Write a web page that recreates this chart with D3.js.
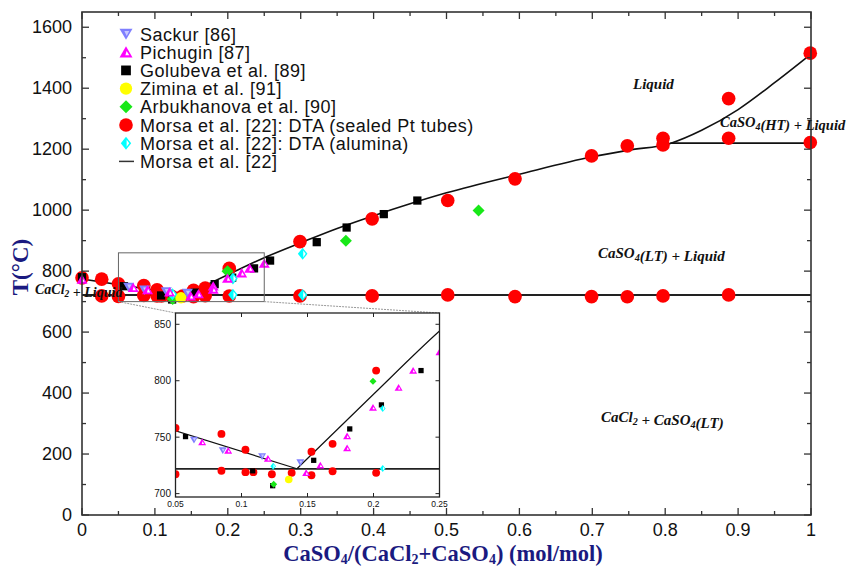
<!DOCTYPE html>
<html>
<head>
<meta charset="utf-8">
<script src="https://cdn.jsdelivr.net/npm/d3@7"></script>
<style>
  body { margin: 0; background: #fff; }
  svg text { font-family: "Liberation Sans", Arial, sans-serif; }
  .serif { font-family: "Liberation Serif", "Times New Roman", serif !important; }
</style>
</head>
<body>
<svg id="chart" width="850" height="568"></svg>
<script>
// data: [x (mol/mol), T (°C)]
var sackur = [[0.064, 747.6], [0.0858, 738.2], [0.1156, 733], [0.1446, 727.5]];
var pichugin = [[0.0, 773], [0.0702, 745.6], [0.0899, 738.2], [0.120, 731], [0.149, 718.4], [0.1597, 725.1],
                [0.180, 750.9], [0.180, 740.4], [0.1996, 776.3], [0.219, 793.9], [0.230, 809], [0.25, 825.4]];
var golubeva = [[0.0, 780], [0.0576, 750.5], [0.1085, 720.2], [0.1236, 707], [0.1547, 729.5], [0.182, 757.3],
                [0.206, 778.6], [0.236, 809], [0.258, 834.6], [0.322, 895], [0.363, 943], [0.414, 987], [0.46, 1031.5]];
var zimina = [[0.1358, 712.5]];
var arbukhanova = [[0.1244, 708.2], [0.1996, 799.6], [0.362, 900], [0.544, 999]];
var morsaPt = [[0.0, 778], [0.027, 773.5], [0.027, 718.7], [0.05, 758.2], [0.05, 717.2], [0.0848, 752.9], [0.0848, 720.2],
               [0.103, 738.9], [0.103, 719], [0.109, 719], [0.123, 717.2], [0.138, 718.4], [0.153, 737.1], [0.153, 716.3],
               [0.169, 744.1], [0.169, 719.8], [0.202, 809], [0.202, 718.4], [0.299, 897], [0.299, 718.7],
               [0.398, 971.4], [0.398, 718.7], [0.5017, 1031.5], [0.5017, 722], [0.594, 1102.7], [0.594, 716.5],
               [0.699, 1178], [0.699, 716.5], [0.748, 1211], [0.748, 716], [0.797, 1236], [0.797, 1214], [0.797, 718.7],
               [0.887, 1366], [0.887, 1236], [0.887, 722], [0.999, 1515], [0.999, 1222]];
var morsaAlumina = [[0.124, 724.2], [0.207, 775.4], [0.207, 722.2], [0.3027, 856.6], [0.3027, 722]];

// Morsa et al. calculated lines
var liquidusLeft = [[0, 774], [0.142, 722]];
var liquidusRight = [[0.142, 722], [0.2, 788], [0.25, 844], [0.3, 893], [0.35, 940], [0.4, 982], [0.45, 1021],
                     [0.5, 1057], [0.6, 1118], [0.7, 1175], [0.75, 1197], [0.807, 1219], [0.85, 1262], [0.9, 1330],
                     [0.95, 1418], [1, 1512]];
var eutecticLine = [[0, 722], [1, 722]];
var peritecticLine = [[0.807, 1220], [1, 1220]];

var xTicks = [0, 0.1, 0.2, 0.3, 0.4, 0.5, 0.6, 0.7, 0.8, 0.9, 1];
var yTicks = [0, 200, 400, 600, 800, 1000, 1200, 1400, 1600];
var insetXTicks = [0.05, 0.1, 0.15, 0.2, 0.25];
var insetYTicks = [700, 750, 800, 850];

var legendNames = ["Sackur [86]", "Pichugin [87]", "Golubeva et al. [89]", "Zimina et al. [91]",
                   "Arbukhanova et al. [90]", "Morsa et al. [22]: DTA (sealed Pt tubes)",
                   "Morsa et al. [22]: DTA (alumina)", "Morsa et al. [22]"];

var svg = d3.select('#chart');
var margin = {top: 12, left: 82, bottom: 53, right: 39};
var width = 850, height = 568;

var x = d3.scaleLinear().domain([0, 1]).range([margin.left, width - margin.right]);
var y = d3.scaleLinear().domain([0, 1650]).range([height - margin.bottom, margin.top]);

var navy = "#1a1a80";

// marker drawing
function marker(g, type, cx, cy, s) {
    var h = s / 2;
    if (type == "sackur") {
        g.append("path").attr("d", "M" + (cx - h) + "," + (cy - h * 0.8) + "L" + (cx + h) + "," + (cy - h * 0.8) + "L" + cx + "," + (cy + h * 0.9) + "Z")
            .attr("fill", "#7f7fff");
        g.append("path").attr("d", "M" + (cx - h * 0.25) + "," + (cy - h * 0.45) + "L" + (cx + h * 0.5) + "," + (cy - h * 0.45) + "L" + (cx + h * 0.1) + "," + (cy + h * 0.3) + "Z")
            .attr("fill", "#c8c8ff");
    } else if (type == "pichugin") {
        g.append("path").attr("d", "M" + (cx - h) + "," + (cy + h * 0.8) + "L" + (cx + h) + "," + (cy + h * 0.8) + "L" + cx + "," + (cy - h * 0.9) + "Z")
            .attr("fill", "#ff00ff");
        g.append("path").attr("d", "M" + (cx - h * 0.1) + "," + (cy + h * 0.45) + "L" + (cx + h * 0.5) + "," + (cy + h * 0.45) + "L" + (cx + h * 0.1) + "," + (cy - h * 0.2) + "Z")
            .attr("fill", "#fff");
    } else if (type == "golubeva") {
        g.append("rect").attr("x", cx - h * 0.75).attr("y", cy - h * 0.75).attr("width", h * 1.5).attr("height", h * 1.5).attr("fill", "#000");
    } else if (type == "zimina") {
        g.append("circle").attr("cx", cx).attr("cy", cy).attr("r", h * 0.95).attr("fill", "#ffff00");
    } else if (type == "arbukhanova") {
        g.append("path").attr("d", "M" + cx + "," + (cy - h) + "L" + (cx + h) + "," + cy + "L" + cx + "," + (cy + h) + "L" + (cx - h) + "," + cy + "Z")
            .attr("fill", "#18e818");
    } else if (type == "morsaPt") {
        g.append("circle").attr("cx", cx).attr("cy", cy).attr("r", h * 1.05).attr("fill", "#ff0000");
    } else if (type == "alumina") {
        g.append("path").attr("d", "M" + cx + "," + (cy - h) + "L" + (cx + h * 0.8) + "," + cy + "L" + cx + "," + (cy + h) + "L" + (cx - h * 0.8) + "," + cy + "Z")
            .attr("fill", "#00ffff");
        g.append("path").attr("d", "M" + (cx + h * 0.1) + "," + (cy - h * 0.55) + "L" + (cx + h * 0.5) + "," + cy + "L" + (cx + h * 0.1) + "," + (cy + h * 0.55) + "Z")
            .attr("fill", "#fff");
    }
}

var series = [
    {type: "sackur", data: sackur},
    {type: "pichugin", data: pichugin},
    {type: "golubeva", data: golubeva},
    {type: "zimina", data: zimina},
    {type: "arbukhanova", data: arbukhanova},
    {type: "morsaPt", data: morsaPt},
    {type: "alumina", data: morsaAlumina}
];
var drawOrder = ["morsaPt", "golubeva", "arbukhanova", "zimina", "alumina", "sackur", "pichugin"];
var mainSize = {sackur: 11, pichugin: 11, golubeva: 11, zimina: 12, arbukhanova: 12, morsaPt: 13, alumina: 12};
var insetSize = {sackur: 8, pichugin: 8, golubeva: 7, zimina: 8, arbukhanova: 7, morsaPt: 7.5, alumina: 7};

// lines
var line = d3.line().x(function(d) { return x(d[0]); }).y(function(d) { return y(d[1]); });
var curve = d3.line().curve(d3.curveMonotoneX).x(function(d) { return x(d[0]); }).y(function(d) { return y(d[1]); });

svg.append("path").attr("d", line(eutecticLine)).attr("stroke", "#222").attr("stroke-width", 2).attr("fill", "none");
svg.append("path").attr("d", line(peritecticLine)).attr("stroke", "#111").attr("stroke-width", 1.6).attr("fill", "none");
svg.append("path").attr("d", line(liquidusLeft)).attr("stroke", "#111").attr("stroke-width", 1.6).attr("fill", "none");
svg.append("path").attr("d", curve(liquidusRight)).attr("stroke", "#111").attr("stroke-width", 1.6).attr("fill", "none");

// points in main plot
var pts = svg.append("g");
drawOrder.forEach(function(t) {
    var s = series.filter(function(d) { return d.type == t; })[0];
    s.data.forEach(function(d) { marker(pts, t, x(d[0]), y(d[1]), mainSize[t]); });
});

// zoom rectangle in main plot
svg.append("rect")
    .attr("x", x(0.05)).attr("y", y(860))
    .attr("width", x(0.25) - x(0.05)).attr("height", y(700) - y(860))
    .attr("fill", "none").attr("stroke", "#666").attr("stroke-width", 1);

// main axes
function frameAxes() {
    var g = svg.append("g").attr("stroke", "#333");
    var x0 = x(0), x1 = x(1), y0 = y(0), y1 = margin.top;
    g.append("rect").attr("x", x0).attr("y", y1).attr("width", x1 - x0).attr("height", y0 - y1)
        .attr("fill", "none").attr("stroke-width", 1.6);
    d3.range(0, 1.0001, 0.05).forEach(function(v, i) {
        var len = i % 2 == 0 ? 7 : 4;
        g.append("line").attr("x1", x(v)).attr("x2", x(v)).attr("y1", y0).attr("y2", y0 - len).attr("stroke-width", 1.3);
        g.append("line").attr("x1", x(v)).attr("x2", x(v)).attr("y1", y1).attr("y2", y1 + len).attr("stroke-width", 1.3);
    });
    d3.range(0, 1650, 100).forEach(function(v, i) {
        var len = i % 2 == 0 ? 7 : 4;
        g.append("line").attr("y1", y(v)).attr("y2", y(v)).attr("x1", x0).attr("x2", x0 + len).attr("stroke-width", 1.3);
        g.append("line").attr("y1", y(v)).attr("y2", y(v)).attr("x1", x1).attr("x2", x1 - len).attr("stroke-width", 1.3);
    });
}
frameAxes();

svg.selectAll(".xlab").data(xTicks).enter().append("text")
    .attr("x", function(d) { return x(d); }).attr("y", 536)
    .attr("text-anchor", "middle").attr("font-size", 18).attr("fill", "#111")
    .text(function(d) { return d; });
svg.selectAll(".ylab").data(yTicks).enter().append("text")
    .attr("x", 72).attr("y", function(d) { return y(d) + 6; })
    .attr("text-anchor", "end").attr("font-size", 18).attr("fill", "#111")
    .text(function(d) { return d; });

// axis titles
var xt = svg.append("text").attr("class", "serif").attr("x", 443).attr("y", 561)
    .attr("text-anchor", "middle").attr("font-size", 22.5).attr("font-weight", "bold").attr("fill", navy);
xt.append("tspan").text("CaSO");
xt.append("tspan").attr("font-size", 14).attr("dy", 3).text("4");
xt.append("tspan").attr("dy", -3).text("/(CaCl");
xt.append("tspan").attr("font-size", 14).attr("dy", 3).text("2");
xt.append("tspan").attr("dy", -3).text("+CaSO");
xt.append("tspan").attr("font-size", 14).attr("dy", 3).text("4");
xt.append("tspan").attr("dy", -3).text(") (mol/mol)");

svg.append("text").attr("class", "serif")
    .attr("transform", "translate(28," + 267 + "), rotate(-90)")
    .attr("text-anchor", "middle").attr("font-size", 23).attr("font-weight", "bold").attr("fill", navy)
    .text("T(°C)");

// phase field labels
function phaseLabel(px, py, parts, fs) {
    var t = svg.append("text").attr("class", "serif").attr("x", px).attr("y", py)
        .attr("font-size", fs).attr("font-weight", "bold").attr("font-style", "italic").attr("fill", "#111");
    parts.forEach(function(p) {
        if (p.sub) {
            t.append("tspan").attr("font-size", fs * 0.68).attr("dy", 3).text(p.sub);
            t.append("tspan").attr("dy", -3).text("");
        } else {
            t.append("tspan").text(p.t);
        }
    });
}
phaseLabel(633, 89, [{t: "Liquid"}], 15);
phaseLabel(720, 127, [{t: "CaSO"}, {sub: "4"}, {t: "(HT) + Liquid"}], 14.5);
phaseLabel(598, 258, [{t: "CaSO"}, {sub: "4"}, {t: "(LT) + Liquid"}], 15);
phaseLabel(601, 422, [{t: "CaCl"}, {sub: "2"}, {t: " + CaSO"}, {sub: "4"}, {t: "(LT)"}], 15);
phaseLabel(35, 294, [{t: "CaCl"}, {sub: "2"}, {t: " + Liquid"}], 14);

// legend
var legend = svg.append("g");
var legendTypes = ["sackur", "pichugin", "golubeva", "zimina", "arbukhanova", "morsaPt", "alumina", "line"];
legendNames.forEach(function(name, i) {
    var ly = 34 + i * 18.2;
    if (legendTypes[i] == "line") {
        legend.append("line").attr("x1", 119).attr("x2", 134).attr("y1", ly).attr("y2", ly).attr("stroke", "#333").attr("stroke-width", 1.5);
    } else {
        marker(legend, legendTypes[i], 126, ly, 13);
    }
    legend.append("text").attr("x", 140).attr("y", ly + 6.5).attr("font-size", 18).attr("letter-spacing", 0.5)
        .attr("fill", "#111").text(name);
});

// inset
var ix = d3.scaleLinear().domain([0.05, 0.25]).range([175.5, 439.5]);
var iy = d3.scaleLinear().domain([697, 860]).range([497, 313]);

// connectors
svg.append("line").attr("x1", x(0.05)).attr("y1", y(700)).attr("x2", ix(0.05)).attr("y2", iy(860))
    .attr("stroke", "#999").attr("stroke-width", 1).attr("stroke-dasharray", "2,1");
svg.append("line").attr("x1", x(0.25)).attr("y1", y(700)).attr("x2", ix(0.25)).attr("y2", iy(860))
    .attr("stroke", "#999").attr("stroke-width", 1).attr("stroke-dasharray", "2,1");

var inset = svg.append("g");
inset.append("rect").attr("x", ix(0.05)).attr("y", iy(860)).attr("width", ix(0.25) - ix(0.05)).attr("height", iy(697) - iy(860))
    .attr("fill", "#fff");
svg.append("clipPath").attr("id", "insetClip").append("rect")
    .attr("x", ix(0.05)).attr("y", iy(860)).attr("width", ix(0.25) - ix(0.05)).attr("height", iy(697) - iy(860));

var ig = inset.append("g").attr("clip-path", "url(#insetClip)");
var iline = d3.line().x(function(d) { return ix(d[0]); }).y(function(d) { return iy(d[1]); });
var icurve = d3.line().curve(d3.curveMonotoneX).x(function(d) { return ix(d[0]); }).y(function(d) { return iy(d[1]); });
ig.append("path").attr("d", iline(eutecticLine)).attr("stroke", "#222").attr("stroke-width", 1.8).attr("fill", "none");
ig.append("path").attr("d", iline(liquidusLeft)).attr("stroke", "#111").attr("stroke-width", 1.2).attr("fill", "none");
ig.append("path").attr("d", icurve(liquidusRight)).attr("stroke", "#111").attr("stroke-width", 1.2).attr("fill", "none");
drawOrder.forEach(function(t) {
    var s = series.filter(function(d) { return d.type == t; })[0];
    s.data.forEach(function(d) { marker(ig, t, ix(d[0]), iy(d[1]), insetSize[t]); });
});

inset.append("rect").attr("x", ix(0.05)).attr("y", iy(860)).attr("width", ix(0.25) - ix(0.05)).attr("height", iy(697) - iy(860))
    .attr("fill", "none").attr("stroke", "#222").attr("stroke-width", 1.3);
insetXTicks.forEach(function(v) {
    inset.append("line").attr("x1", ix(v)).attr("x2", ix(v)).attr("y1", iy(697)).attr("y2", iy(697) - 4).attr("stroke", "#222");
    inset.append("line").attr("x1", ix(v)).attr("x2", ix(v)).attr("y1", iy(860)).attr("y2", iy(860) + 4).attr("stroke", "#222");
    inset.append("text").attr("x", ix(v)).attr("y", 507).attr("text-anchor", "middle").attr("font-size", 8.5).attr("fill", "#111").text(v);
});
insetYTicks.forEach(function(v) {
    inset.append("line").attr("y1", iy(v)).attr("y2", iy(v)).attr("x1", ix(0.05)).attr("x2", ix(0.05) + 4).attr("stroke", "#222");
    inset.append("line").attr("y1", iy(v)).attr("y2", iy(v)).attr("x1", ix(0.25)).attr("x2", ix(0.25) - 4).attr("stroke", "#222");
    inset.append("text").attr("x", 171).attr("y", iy(v) + 3.5).attr("text-anchor", "end").attr("font-size", 10).attr("fill", "#111").text(v);
});
</script>
</body>
</html>
